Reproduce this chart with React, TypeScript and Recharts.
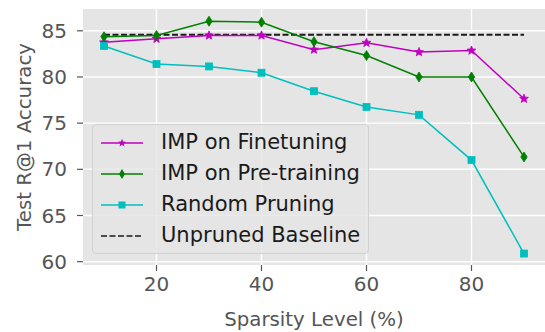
import React from "react";
import { LineChart, Line, XAxis, YAxis, CartesianGrid } from "recharts";

// sparsity levels (%)
const sparsity = [10, 20, 30, 40, 50, 60, 70, 80, 90];
const impFinetuning = [83.75, 84.14, 84.5, 84.5, 82.96, 83.7, 82.7, 82.86, 77.64];
const impPretraining = [84.36, 84.5, 86.04, 85.93, 83.82, 82.32, 80.0, 80.0, 71.34];
const randomPruning = [83.36, 81.4, 81.14, 80.46, 78.46, 76.75, 75.9, 71.0, 60.88];
const unprunedBaseline = 84.57;

const xTicks = [20, 40, 60, 80];
const yTicks = [60, 65, 70, 75, 80, 85];

const MAGENTA = "#bf00bf";
const GREEN = "#008000";
const CYAN = "#00bfbf";
const BASE = "#1a1a1a";

const rows = sparsity.map((s, i) => ({
  s,
  fine: impFinetuning[i],
  pre: impPretraining[i],
  rand: randomPruning[i],
  base: unprunedBaseline,
}));

const FONT = "'DejaVu Sans', sans-serif";
const TICK_FS = 20;
const LABEL_FS = 19.8;
const LEGEND_FS = 21;

function starPoints(cx: number, cy: number, ro: number, ri: number) {
  const pts: string[] = [];
  for (let k = 0; k < 10; k++) {
    const r = k % 2 === 0 ? ro : ri;
    const a = -Math.PI / 2 + (k * Math.PI) / 5;
    pts.push(`${cx + r * Math.cos(a)},${cy + r * Math.sin(a)}`);
  }
  return pts.join(" ");
}

const StarDot = (p: any) => (
  <polygon key={`st-${p.index}`} points={starPoints(p.cx, p.cy, 4.6, 2)} fill={MAGENTA} stroke={MAGENTA} strokeWidth={0.8} />
);
const DiamondDot = (p: any) => (
  <polygon
    key={`dm-${p.index}`}
    points={`${p.cx},${p.cy - 5} ${p.cx + 3.2},${p.cy} ${p.cx},${p.cy + 5} ${p.cx - 3.2},${p.cy}`}
    fill={GREEN}
    stroke={GREEN}
    strokeWidth={0.8}
  />
);
const SquareDot = (p: any) => (
  <rect key={`sq-${p.index}`} x={p.cx - 3.5} y={p.cy - 3.5} width={7} height={7} fill={CYAN} stroke={CYAN} strokeWidth={0.8} />
);

const legendItems = [
  { label: "IMP on Finetuning", color: MAGENTA, marker: "star" },
  { label: "IMP on Pre-training", color: GREEN, marker: "diamond" },
  { label: "Random Pruning", color: CYAN, marker: "square" },
  { label: "Unpruned Baseline", color: BASE, marker: "dash" },
];

function LegendBox() {
  return (
    <div
      style={{
        position: "absolute",
        left: 92,
        top: 124,
        background: "rgba(229,229,229,0.8)",
        border: "1px solid #d2d2d2",
        borderRadius: 4,
        width: 277,
        height: 130,
        boxSizing: "border-box",
        paddingTop: 2,
      }}
    >
      {legendItems.map((it) => (
        <div key={it.label} style={{ display: "flex", alignItems: "center", height: 31 }}>
          <svg width={68} height={20} style={{ flex: "none" }}>
            {it.marker === "dash" ? (
              <line x1={8} y1={10} x2={50} y2={10} stroke={it.color} strokeWidth={1.6} strokeDasharray="6 2.5" />
            ) : (
              <line x1={8} y1={10} x2={50} y2={10} stroke={it.color} strokeWidth={1.6} />
            )}
            {it.marker === "star" && <polygon points={starPoints(29, 10, 4.2, 1.8)} fill={it.color} />}
            {it.marker === "diamond" && <polygon points="29,5 32,10 29,15 26,10" fill={it.color} />}
            {it.marker === "square" && <rect x={25.5} y={6.5} width={7} height={7} fill={it.color} />}
          </svg>
          <span style={{ fontFamily: FONT, fontSize: LEGEND_FS, lineHeight: "31px", color: "#1a1a1a", whiteSpace: "nowrap" }}>{it.label}</span>
        </div>
      ))}
    </div>
  );
}

export default function App() {
  return (
    <div style={{ position: "absolute", left: 0, top: 0, width: 545, height: 332, background: "#fff" }}>
      <LineChart width={545} height={332} data={rows} margin={{ top: 9, right: 0, bottom: 0, left: 0 }}>
        <CartesianGrid fill="#e5e5e5" stroke="#ffffff" strokeWidth={1.4} horizontalValues={yTicks} verticalValues={xTicks} />
        <XAxis
          dataKey="s"
          type="number"
          domain={[6, 94]}
          ticks={xTicks}
          interval={0}
          height={67}
          axisLine={false}
          tickSize={6}
          tickLine={{ stroke: "#555", strokeWidth: 1.2 }}
          tick={{ fill: "#555", fontSize: TICK_FS, fontFamily: FONT }}
          tickMargin={6}
          label={{ value: "Sparsity Level (%)", position: "insideBottom", offset: 6, fill: "#555", fontSize: LABEL_FS, fontFamily: FONT }}
        />
        <YAxis
          type="number"
          domain={[59.64, 87.36]}
          ticks={yTicks}
          interval={0}
          width={83}
          axisLine={false}
          tickSize={6}
          tickLine={{ stroke: "#555", strokeWidth: 1.2 }}
          tick={{ fill: "#555", fontSize: TICK_FS, fontFamily: FONT }}
          tickMargin={10}
          label={{ value: "Test R@1  Accuracy", angle: -90, position: "insideLeft", offset: 24, fill: "#555", fontSize: LABEL_FS, fontFamily: FONT, style: { textAnchor: "middle", whiteSpace: "pre" } }}
        />
        <Line dataKey="base" stroke={BASE} strokeWidth={2} strokeDasharray="6 2.5" dot={false} isAnimationActive={false} />
        <Line dataKey="fine" stroke={MAGENTA} strokeWidth={1.5} dot={StarDot} isAnimationActive={false} />
        <Line dataKey="pre" stroke={GREEN} strokeWidth={1.5} dot={DiamondDot} isAnimationActive={false} />
        <Line dataKey="rand" stroke={CYAN} strokeWidth={1.5} dot={SquareDot} isAnimationActive={false} />
      </LineChart>
      <LegendBox />
    </div>
  );
}
